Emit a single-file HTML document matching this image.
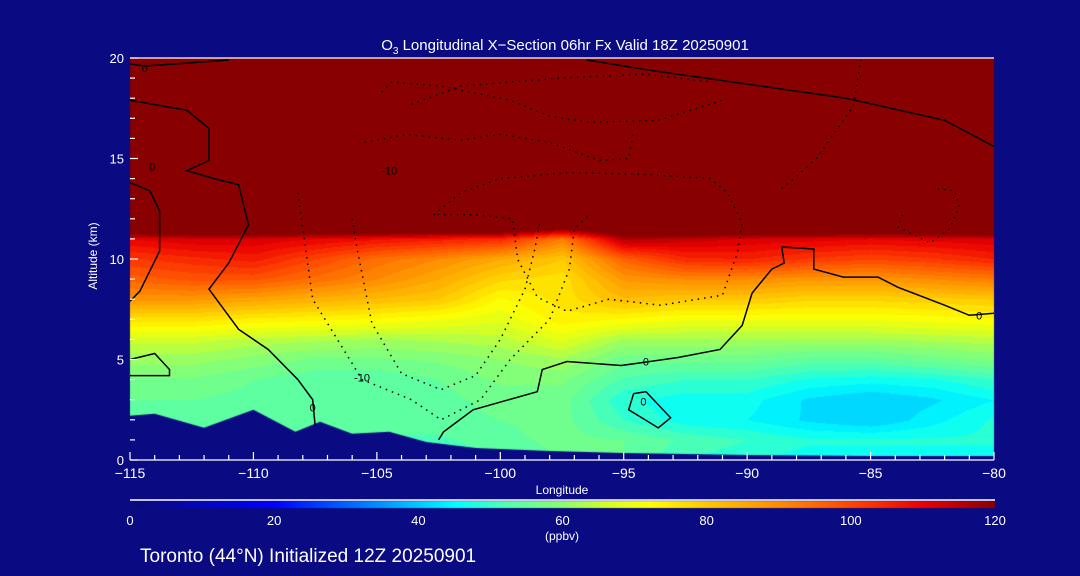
<!DOCTYPE html>
<html><head><meta charset="utf-8">
<style>
body{margin:0;background:#0a0a82;width:1080px;height:576px;overflow:hidden;font-family:"Liberation Sans",sans-serif;color:#fff}
#wrap{position:relative;width:1080px;height:576px}
canvas{position:absolute;left:0;top:0}
svg{position:absolute;left:0;top:0}
</style></head><body>
<div id="wrap">
<canvas id="cv" width="1080" height="576"></canvas>
<svg id="sv" width="1080" height="576"></svg>
</div>
<script>
// ---- data ----
const lons=[-115,-112.5,-110,-107.5,-105,-102.5,-100,-97.5,-95,-92.5,-90,-87.5,-85,-82.5,-80];
const alts=[0,1,2,3,4,5,6,7,8,9,10,11,11.6,13,20];
const o3=[
[50,50,50,50,50,50,52,55,55,50,48,46,46,46,46],
[52,52,52,52,52,52,54,56,55,52,50,48,48,48,48],
[54,54,54,54,54,54,55,56,50,46,45,42,40,44,48],
[55,55,54,54,53,54,56,56,48,46,46,42,40,42,45],
[57,57,55,53,53,55,58,58,52,50,50,47,46,47,50],
[61,61,59,57,57,58,60,62,56,56,56,54,54,56,58],
[66,66,64,63,62,63,64,68,62,62,62,62,62,63,64],
[76,76,74,73,72,70,68,74,72,70,70,70,70,71,72],
[88,88,86,84,82,80,72,76,82,80,80,78,78,79,80],
[96,98,98,94,90,85,78,76,88,90,90,88,88,90,92],
[102,104,106,100,94,90,85,80,96,104,105,102,100,102,105],
[110,112,112,110,108,106,104,92,116,114,112,111,110,111,112],
[132,132,132,132,132,132,132,125,132,132,132,132,132,132,132],
[150,150,150,150,150,150,150,150,150,150,150,150,150,150,150],
[150,150,150,150,150,150,150,150,150,150,150,150,150,150,150]];
const terrLon=[-115,-114,-112,-110,-108.3,-107.3,-106,-104.5,-103,-101,-98,-95,-90,-85,-80];
const terrAlt=[2.2,2.3,1.6,2.5,1.4,1.9,1.3,1.4,0.9,0.6,0.45,0.35,0.25,0.2,0.2];
const xTicks=[-115,-110,-105,-100,-95,-90,-85,-80];
const yTicks=[0,5,10,15,20];
const cbTicks=[0,20,40,60,80,100,120];
const solidLines=[
 [[-115,17.9],[-112.7,17.4],[-111.8,16.5],[-111.8,14.9],[-112.7,14.4],[-111.6,14.0],[-110.6,13.7],[-110.2,11.7],[-111,9.8],[-111.8,8.5],[-110.6,6.5],[-109.4,5.5],[-108.2,4.0],[-107.6,3.0],[-107.5,1.7]],
 [[-115,13.8],[-114.2,13.4],[-113.8,12.4],[-113.8,10.4],[-114.2,9.4],[-114.6,8.4],[-115,7.9]],
 [[-115,5.0],[-114,5.3],[-113.4,4.5],[-113.4,4.2],[-115,4.2]],
 [[-102.5,1.0],[-102.3,1.4],[-101.1,2.5],[-98.5,3.4],[-98.3,4.5],[-97.3,4.9],[-95.1,4.7],[-92.8,5.1],[-91.1,5.5],[-90.2,6.7],[-89.8,8.3],[-89,9.5],[-88.5,9.8],[-88.6,10.6],[-87.3,10.5],[-87.3,9.5],[-86.1,9.1],[-84.7,9.1],[-83.9,8.6],[-82,7.7],[-81,7.2],[-80,7.3]],
 [[-115,19.7],[-114.4,19.6],[-113.2,19.7],[-111,19.9]],
 [[-96.5,19.9],[-94,19.4],[-86,18.0],[-82,16.9],[-80,15.6]],
 [[-94.6,3.3],[-94.1,3.4],[-93.1,2.1],[-93.6,1.6],[-94.8,2.5],[-94.6,3.3]]
];
const dottedLines=[
 [[-108.2,13.3],[-108,11.5],[-107.6,8.0],[-105.6,4.0],[-103.6,3.0],[-102.4,2.0],[-100.8,3.0],[-99.6,5.0],[-98,7.0],[-97.2,9.5],[-97,11.5],[-96.4,12.2]],
 [[-106,12.0],[-105.8,10.5],[-105.2,6.8],[-104,4.3],[-102.4,3.5],[-101,4.2],[-100,6.0],[-99,8.5],[-98.6,10.5],[-98.4,11.8]],
 [[-104.8,18.3],[-104.4,18.8],[-102.4,18.6],[-99.6,17.9],[-98,17.1],[-96.4,16.8],[-93.6,16.9],[-91,17.9]],
 [[-103.6,17.7],[-101.6,18.6],[-97.6,19.0],[-94.1,19.2],[-91.4,18.8]],
 [[-102.7,12.2],[-101.6,13.3],[-100,14.0],[-97.2,14.3],[-94,14.2],[-91.5,14.0],[-90.8,13.3],[-90.2,11.8],[-90.4,10.3],[-91,8.2],[-93.5,7.7],[-95.6,8.0],[-97.3,7.4],[-98.5,8.1],[-99.3,10.0],[-99.5,12.0],[-101,12.2],[-102.7,12.2]],
 [[-105.5,15.8],[-103.8,16.2],[-101.6,15.9],[-100,16.2],[-98,15.8],[-96,14.9],[-94.8,15.0],[-94.6,16.3]],
 [[-88.6,13.5],[-88.1,14.0],[-87.2,15.0],[-85.7,17.6],[-85.4,19.9]],
 [[-83.7,12.2],[-83.9,11.6],[-82.6,10.8],[-81.8,11.5],[-81.4,12.6],[-81.6,13.4],[-82.3,13.5]]
];
// ---- axes ----
const X0=130,X1=994,Y0=460,Y1=58;
const xs=l=>X0+(l+115)/35*(X1-X0);
const ys=a=>Y0-a/20*(Y0-Y1);
const stops=[[0,[10,10,120]],[20,[0,0,255]],[35,[0,150,255]],[45,[0,255,255]],[52,[80,255,175]],[60,[140,255,110]],[67,[220,255,30]],[72,[255,255,0]],[80,[255,200,0]],[90,[255,140,0]],[100,[255,70,0]],[110,[235,0,0]],[120,[136,0,0]]];
function cmap(v){v=Math.max(0,Math.min(120,v));for(let i=1;i<stops.length;i++){if(v<=stops[i][0]){const a=stops[i-1],b=stops[i];const t=(v-a[0])/(b[0]-a[0]);return a[1].map((c,k)=>Math.round(c+(b[1][k]-c)*t));}}return stops[stops.length-1][1];}
function idx(arr,v){for(let i=0;i<arr.length-1;i++){if(v<=arr[i+1])return i;}return arr.length-2;}
function val(l,a){const i=idx(lons,l),j=idx(alts,a);const tx=(l-lons[i])/(lons[i+1]-lons[i]),ty=(a-alts[j])/(alts[j+1]-alts[j]);
 return o3[j][i]*(1-tx)*(1-ty)+o3[j][i+1]*tx*(1-ty)+o3[j+1][i]*(1-tx)*ty+o3[j+1][i+1]*tx*ty;}
const cv=document.getElementById('cv'),ctx=cv.getContext('2d');
const img=ctx.createImageData(X1-X0,Y0-Y1);
for(let py=0;py<Y0-Y1;py++){const a=(Y0-(Y1+py))/(Y0-Y1)*20;
 for(let px=0;px<X1-X0;px++){const l=-115+px/(X1-X0)*35;let v=val(l,a);v=Math.floor(v/2.5)*2.5+1.25;const c=cmap(v);const o=(py*(X1-X0)+px)*4;img.data[o]=c[0];img.data[o+1]=c[1];img.data[o+2]=c[2];img.data[o+3]=255;}}
ctx.putImageData(img,X0,Y1);
ctx.fillStyle='#0a0a82';ctx.beginPath();ctx.moveTo(xs(-115),Y0);
terrLon.forEach((l,i)=>ctx.lineTo(xs(l),ys(terrAlt[i])));ctx.lineTo(xs(-80),Y0);ctx.closePath();ctx.fill();
const gx0=130,gx1=995;
for(let x=gx0;x<gx1;x++){const c=cmap((x-gx0)/(gx1-gx0)*120);ctx.fillStyle=`rgb(${c[0]},${c[1]},${c[2]})`;ctx.fillRect(x,501,1,7);}
const sv=document.getElementById('sv');const NS='http://www.w3.org/2000/svg';
function mk(t,at,parent){const e=document.createElementNS(NS,t);for(const k in at)e.setAttribute(k,at[k]);(parent||sv).appendChild(e);return e;}
function txt(s,x,y,size,anchor){const e=mk('text',{x:x,y:y,'font-size':size,fill:'#fff','text-anchor':anchor||'middle','font-family':'Liberation Sans, sans-serif'});e.textContent=s;return e;}
solidLines.forEach(line=>{const e=mk('polyline',{points:line.map(p=>xs(p[0])+','+ys(p[1])).join(' '),fill:'none',stroke:'#000','stroke-width':1.5});

});
dottedLines.forEach(line=>{const e=mk('polyline',{points:line.map(p=>xs(p[0])+','+ys(p[1])).join(' '),fill:'none',stroke:'#000','stroke-width':1.5,'stroke-dasharray':'1.5 5'});

});
[['0',-114.1,14.6],['0',-107.6,2.6],['-10',-105.6,4.1],['-10',-104.5,14.4],['0',-94.1,4.9],['0',-94.2,2.9],['0',-80.6,7.2],['0',-114.4,19.5]].forEach(d=>{const e=txt(d[0],xs(d[1]),ys(d[2])+4,11);e.setAttribute('fill','#000');

});
const ax=mk('g',{stroke:'#fff','stroke-width':1.2});


mk('line',{x1:X0,y1:Y0,x2:X1,y2:Y0},ax);mk('line',{x1:X0,y1:Y1,x2:X1,y2:Y1},ax);
for(let l=-115;l<=-80;l++){mk('line',{x1:xs(l),y1:Y0,x2:xs(l),y2:Y0-(l%5==0?8:5)},ax);}
for(let a=0;a<=20;a++){mk('line',{x1:X0,y1:ys(a),x2:X0+(a%5==0?8:5),y2:ys(a)},ax);}
xTicks.forEach(t=>{const e=txt((t<0?'\u2212':'')+Math.abs(t),xs(t),478,14);

});
yTicks.forEach(t=>{const e=txt(String(t),124,ys(t)+5,13,'end');

});
mk('line',{x1:130,y1:500,x2:995,y2:500,stroke:'#fff','stroke-width':1.5});
cbTicks.forEach(t=>{const e=txt(String(t),gx0+t/120*(gx1-gx0),525,13);

});
let e;
e=txt('Longitude',562,494,12);


e=txt('(ppbv)',562,540,12);


e=mk('text',{x:0,y:0,'font-size':12,fill:'#fff','text-anchor':'middle',transform:'translate(97,256) rotate(-90)','font-family':'Liberation Sans, sans-serif'});e.textContent='Altitude (km)';


e=txt('',565,50,15);e.innerHTML='O<tspan font-size="10" dy="4">3</tspan><tspan dy="-4"> Longitudinal X\u2212Section 06hr  Fx Valid 18Z 20250901</tspan>';e.setAttribute('xml:space','preserve');


e=txt('Toronto (44\u00b0N) Initialized 12Z 20250901',140,562,19,'start');


</script>
</body></html>
